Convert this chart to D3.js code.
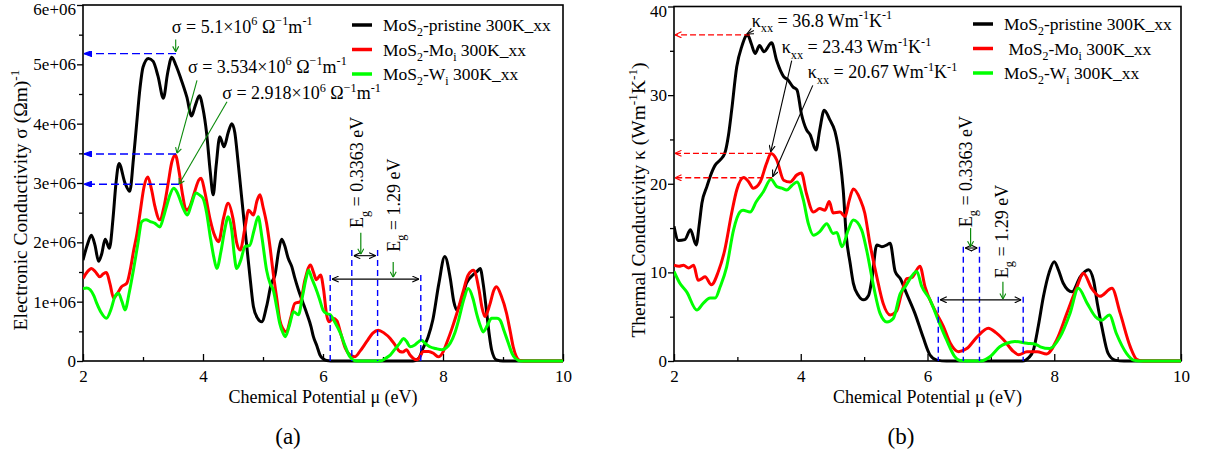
<!DOCTYPE html>
<html>
<head>
<meta charset="utf-8">
<script src="https://cdn.jsdelivr.net/npm/d3@7"></script>
<style>
  body { margin: 0; background: #fff; }
  text { font-family: "Liberation Serif", "Times New Roman", serif; fill: #000; white-space: pre; }
</style>
</head>
<body>
<svg id="chart" width="1206" height="451"></svg>
<script>
/* global d3 */

// chemical potential (eV) vs electronic conductivity sigma (x 1e6 Ohm^-1 m^-1)
const sigmaPristine = [[2.0,1.70],[2.07,1.95],[2.14,2.12],[2.2,1.95],[2.26,1.68],[2.31,1.8],[2.37,2.05],[2.44,1.9],[2.5,2.4],[2.55,3.0],[2.6,3.33],[2.7,3.0],[2.78,2.86],[2.84,3.4],[2.89,3.95],[2.95,4.6],[3.0,4.95],[3.09,5.1],[3.17,5.05],[3.25,4.8],[3.34,4.43],[3.41,4.85],[3.48,5.12],[3.55,4.98],[3.62,4.79],[3.73,4.45],[3.81,4.13],[3.87,4.3],[3.94,4.47],[4.0,4.25],[4.06,3.84],[4.12,3.2],[4.17,2.8],[4.22,3.3],[4.28,3.78],[4.35,3.61],[4.42,3.85],[4.48,4.0],[4.53,3.85],[4.58,3.4],[4.62,3.0],[4.68,2.4],[4.73,1.93],[4.79,1.35],[4.84,0.92],[4.91,0.72],[4.98,0.66],[5.06,0.92],[5.14,1.31],[5.2,1.45],[5.26,1.85],[5.31,2.05],[5.36,1.95],[5.42,1.73],[5.48,1.59],[5.53,1.4],[5.59,1.2],[5.66,1.0],[5.73,0.8],[5.8,0.58],[5.84,0.41],[5.9,0.25],[5.95,0.1],[6.0,0.04],[6.06,0.01],[6.2,0],[7.5,0],[7.6,0.05],[7.66,0.2],[7.75,0.4],[7.83,0.69],[7.93,1.3],[8.03,1.76],[8.12,1.4],[8.18,1.0],[8.23,0.86],[8.3,1.0],[8.39,1.31],[8.5,1.45],[8.56,1.5],[8.62,1.56],[8.67,1.3],[8.73,0.8],[8.77,0.45],[8.81,0.19],[8.89,0.02],[9.0,0],[10,0]]
const sigmaMoi = [[2.0,1.39],[2.07,1.5],[2.14,1.56],[2.21,1.5],[2.28,1.42],[2.34,1.47],[2.39,1.49],[2.45,1.3],[2.51,1.06],[2.58,1.15],[2.64,1.25],[2.73,1.31],[2.79,1.55],[2.84,1.84],[2.9,2.15],[2.95,2.49],[3.02,2.95],[3.08,3.1],[3.14,2.9],[3.2,2.6],[3.28,2.38],[3.35,2.6],[3.42,3.0],[3.48,3.35],[3.54,3.47],[3.6,3.2],[3.66,2.8],[3.72,2.54],[3.78,2.6],[3.86,2.85],[3.93,3.05],[3.97,3.08],[4.03,2.85],[4.12,2.38],[4.2,2.1],[4.26,2.01],[4.34,2.4],[4.42,2.66],[4.5,2.4],[4.56,2.0],[4.62,1.87],[4.7,2.25],[4.76,2.54],[4.84,2.46],[4.9,2.7],[4.95,2.8],[5.0,2.6],[5.06,2.32],[5.12,1.9],[5.17,1.48],[5.23,1.05],[5.28,0.69],[5.33,0.55],[5.39,0.49],[5.46,0.72],[5.53,0.97],[5.62,1.0],[5.7,1.37],[5.79,1.62],[5.84,1.5],[5.89,1.37],[5.96,1.45],[6.01,1.2],[6.06,0.78],[6.1,0.66],[6.17,0.72],[6.23,0.68],[6.3,0.45],[6.37,0.22],[6.45,0.1],[6.53,0.07],[6.62,0.17],[6.73,0.33],[6.83,0.47],[6.92,0.52],[7.02,0.47],[7.12,0.38],[7.2,0.27],[7.28,0.16],[7.33,0.15],[7.39,0.19],[7.45,0.1],[7.56,0.02],[7.62,0.08],[7.67,0.16],[7.76,0.16],[7.84,0.13],[7.92,0.07],[8.0,0.15],[8.06,0.3],[8.15,0.55],[8.23,0.8],[8.33,1.15],[8.42,1.45],[8.51,1.53],[8.6,1.2],[8.65,0.9],[8.7,0.75],[8.78,0.95],[8.85,1.2],[8.89,1.25],[8.97,1.1],[9.06,0.8],[9.12,0.5],[9.17,0.24],[9.22,0.08],[9.28,0.01],[9.4,0],[10,0]]
const sigmaWi = [[2.0,1.22],[2.06,1.23],[2.12,1.2],[2.18,1.1],[2.23,0.97],[2.3,0.82],[2.39,0.72],[2.47,0.88],[2.53,1.08],[2.59,1.14],[2.65,1.0],[2.7,0.86],[2.77,1.15],[2.84,1.53],[2.91,1.95],[2.98,2.35],[3.05,2.38],[3.12,2.35],[3.2,2.32],[3.28,2.26],[3.34,2.42],[3.39,2.6],[3.45,2.8],[3.51,2.91],[3.57,2.84],[3.62,2.71],[3.68,2.55],[3.74,2.46],[3.8,2.62],[3.88,2.83],[3.94,2.8],[4.0,2.74],[4.06,2.5],[4.12,2.1],[4.18,1.75],[4.23,1.56],[4.3,1.85],[4.36,2.2],[4.42,2.43],[4.48,2.2],[4.52,1.8],[4.56,1.56],[4.63,1.7],[4.7,1.93],[4.78,1.95],[4.85,2.2],[4.92,2.43],[4.98,2.1],[5.06,1.53],[5.12,1.3],[5.17,1.2],[5.23,0.9],[5.28,0.63],[5.33,0.48],[5.37,0.41],[5.44,0.6],[5.51,0.83],[5.59,0.78],[5.66,1.1],[5.72,1.4],[5.76,1.53],[5.81,1.4],[5.87,1.25],[5.94,1.05],[6.0,0.86],[6.06,0.8],[6.12,0.78],[6.2,0.65],[6.29,0.47],[6.37,0.25],[6.45,0.07],[6.56,0],[6.95,0],[7.05,0.05],[7.12,0.1],[7.2,0.2],[7.28,0.3],[7.34,0.38],[7.4,0.32],[7.45,0.24],[7.53,0.27],[7.6,0.33],[7.64,0.35],[7.7,0.3],[7.78,0.24],[7.88,0.21],[7.98,0.19],[8.05,0.22],[8.12,0.3],[8.2,0.48],[8.26,0.69],[8.35,1.05],[8.42,1.22],[8.5,1.05],[8.56,0.8],[8.62,0.6],[8.67,0.49],[8.74,0.6],[8.81,0.72],[8.9,0.72],[8.95,0.69],[9.02,0.5],[9.09,0.3],[9.15,0.13],[9.2,0.05],[9.3,0],[10,0]]

// chemical potential (eV) vs thermal conductivity kappa (W m^-1 K^-1)
const kappaPristine = [[2.0,15.2],[2.07,13.6],[2.17,13.7],[2.26,14.8],[2.35,13.1],[2.4,15.5],[2.44,17.8],[2.52,19.7],[2.57,20.8],[2.65,22.1],[2.73,22.7],[2.8,23.4],[2.86,25.5],[2.91,28.3],[2.99,33.2],[3.07,35.5],[3.16,36.8],[3.22,35.8],[3.28,34.7],[3.35,35.6],[3.42,34.9],[3.54,35.9],[3.62,33.9],[3.73,32.1],[3.8,31.7],[3.88,30.9],[3.94,30.6],[4.01,27.9],[4.09,26.1],[4.15,25.5],[4.24,23.8],[4.3,26.1],[4.37,28.3],[4.46,27.2],[4.54,25.9],[4.62,22.7],[4.67,19.3],[4.72,14.0],[4.78,11.0],[4.83,8.76],[4.91,7.4],[4.99,6.9],[5.07,7.4],[5.12,9.1],[5.2,13.1],[5.28,12.9],[5.36,13.1],[5.41,13.3],[5.49,10.1],[5.57,9.3],[5.67,7.6],[5.8,5.4],[5.93,2.7],[6.04,0.68],[6.15,0.1],[6.3,0],[7.5,0],[7.6,0.4],[7.67,1.2],[7.75,4.0],[7.83,7.3],[7.92,10.0],[8.0,11.2],[8.07,10.2],[8.14,8.8],[8.28,7.8],[8.41,9.5],[8.54,10.3],[8.62,9.1],[8.68,6.5],[8.75,3.9],[8.85,0.86],[8.96,0.1],[9.1,0],[10,0]]
const kappaMoi = [[2.0,10.8],[2.08,10.7],[2.15,10.8],[2.23,10.5],[2.31,10.8],[2.38,9.1],[2.44,9.3],[2.49,9.5],[2.59,8.6],[2.7,10.1],[2.8,12.5],[2.91,16.7],[2.99,19.3],[3.1,20.7],[3.18,20.2],[3.25,19.5],[3.36,20.2],[3.46,22.3],[3.53,23.4],[3.62,22.7],[3.73,20.4],[3.83,20.2],[3.94,21.0],[4.01,21.2],[4.09,18.9],[4.2,16.8],[4.3,17.2],[4.38,17.0],[4.45,18.0],[4.51,16.7],[4.62,16.8],[4.7,16.3],[4.76,18.0],[4.83,19.4],[4.94,18.2],[5.01,16.7],[5.09,13.3],[5.2,9.5],[5.3,6.5],[5.41,5.2],[5.51,5.6],[5.59,7.6],[5.67,9.3],[5.75,9.4],[5.88,10.7],[5.96,8.4],[6.09,6.1],[6.25,3.9],[6.36,2.0],[6.49,1.05],[6.62,1.4],[6.78,2.7],[6.96,3.7],[7.08,3.2],[7.2,2.4],[7.36,1.05],[7.44,0.7],[7.57,1.05],[7.73,1.05],[7.88,0.8],[8.04,2.4],[8.2,5.4],[8.36,8.4],[8.46,9.9],[8.59,8.2],[8.72,7.3],[8.91,8.2],[9.04,5.4],[9.2,1.6],[9.3,0.2],[9.4,0],[10,0]]
const kappaWi = [[2.0,10.1],[2.09,8.8],[2.2,7.8],[2.36,5.75],[2.46,6.5],[2.57,7.1],[2.65,7.1],[2.73,8.4],[2.83,10.6],[2.94,14.8],[3.04,16.8],[3.09,17.0],[3.2,16.8],[3.3,18.0],[3.41,19.1],[3.53,20.5],[3.62,19.7],[3.7,19.5],[3.78,19.3],[3.86,19.8],[3.94,20.2],[4.04,18.2],[4.12,15.5],[4.2,14.2],[4.3,14.6],[4.41,15.5],[4.51,14.4],[4.57,14.5],[4.65,12.9],[4.75,14.8],[4.83,15.9],[4.96,14.8],[5.04,12.5],[5.15,8.4],[5.25,5.4],[5.36,4.4],[5.46,4.8],[5.57,7.6],[5.65,8.4],[5.83,10.1],[5.91,8.4],[6.04,6.9],[6.17,4.6],[6.3,2.4],[6.43,0.5],[6.51,0.05],[6.6,0],[6.85,0],[6.99,0.5],[7.14,1.6],[7.25,2.0],[7.38,2.2],[7.57,2.0],[7.7,1.9],[7.78,1.6],[7.93,1.4],[8.09,2.7],[8.25,5.4],[8.38,8.2],[8.52,6.5],[8.65,5.0],[8.75,4.6],[8.87,5.2],[8.98,3.1],[9.14,0.86],[9.25,0.1],[9.35,0],[10,0]]

const xTicks = [2, 4, 6, 8, 10]
const xMinorTicks = [3, 5, 7, 9]
const sigmaTicks = [0, 1, 2, 3, 4, 5, 6]
const sigmaMinorTicks = [0.5, 1.5, 2.5, 3.5, 4.5, 5.5]
const kappaTicks = [0, 10, 20, 30, 40]
const kappaMinorTicks = [5, 15, 25, 35]
const seriesColors = ['#000000', '#ff0000', '#00ff00']

// peak call-outs: value, where the dashed guide starts, label anchor, pointer arrow (all data units)
const sigmaPeaks = [
  { text: '5.1', v: 5.18, mu: 3.55, labelMu: 3.48, labelV: 5.53, from: [3.545, 5.42], to: [3.545, 5.21] },
  { text: '3.534', v: 3.49, mu: 3.55, labelMu: 3.75, labelV: 4.86, from: [3.9, 4.73], to: [3.567, 3.5] },
  { text: '2.918', v: 2.98, mu: 3.6, labelMu: 4.32, labelV: 4.41, from: [4.4, 4.37], to: [3.6, 2.98] }
]
const kappaPeaks = [
  { text: '36.8', v: 36.8, mu: 3.2, labelMu: 3.226, labelV: 37.7, from: [3.26, 37.3], to: [3.15, 36.9] },
  { text: '23.43', v: 23.43, mu: 3.53, labelMu: 3.7, labelV: 34.7, from: [3.857, 33.9], to: [3.526, 23.6] },
  { text: '20.67', v: 20.67, mu: 3.55, labelMu: 4.11, labelV: 31.9, from: [4.19, 31.1], to: [3.557, 20.8] }
]
// band gaps: edges (eV), guide top, double-arrow level, pointer and rotated label
const sigmaGaps = [
  { text: '0.3363', lo: 6.48, hi: 6.91, top: 1.87, level: 1.775, pointMu: 6.63, pointFrom: 2.16, pointTo: 1.8, labelMu: 6.67, labelV: 2.24 },
  { text: '1.29', lo: 6.12, hi: 7.63, top: 1.45, level: 1.38, pointMu: 7.17, pointFrom: 1.67, pointTo: 1.41, labelMu: 7.28, labelV: 1.84 }
]
const kappaGaps = [
  { text: '0.3363', lo: 6.565, hi: 6.82, top: 12.9, level: 12.75, pointMu: 6.68, pointFrom: 15.0, pointTo: 12.9, labelMu: 6.7, labelV: 15.1 },
  { text: '1.29', lo: 6.17, hi: 7.51, top: 7.25, level: 6.9, pointMu: 7.19, pointFrom: 8.94, pointTo: 7.0, labelMu: 7.27, labelV: 9.35 }
]

const svg = d3.select('#chart')
const defs = svg.append('defs')

function addMarker(id, color, filled, w, h) {
  defs.append('marker')
    .attr('id', id)
    .attr('viewBox', `0 0 ${w} ${h}`)
    .attr('refX', w).attr('refY', h / 2)
    .attr('markerWidth', w).attr('markerHeight', h)
    .attr('markerUnits', 'userSpaceOnUse')
    .attr('orient', 'auto-start-reverse')
    .append('path')
    .attr('d', filled ? `M0,0L${w},${h / 2}L0,${h}Z` : `M0.5,0.5L${w},${h / 2}L0.5,${h - 0.5}`)
    .attr('fill', filled ? color : 'none')
    .attr('stroke', color)
    .attr('stroke-width', 1.1)
}
addMarker('blueHead', '#0000ff', true, 8, 6)
addMarker('redHead', '#ff0000', false, 7, 7)
addMarker('blackHead', '#000000', false, 7, 7)
addMarker('greenHead', '#0a8a0a', false, 6, 7)

// text with super/subscripts: parts = [[string, '' | 'sup' | 'sub'], ...]
function rich(sel, parts, size) {
  let shift = 0
  parts.forEach(([s, kind]) => {
    const target = kind === 'sup' ? -0.42 * size : kind === 'sub' ? 0.3 * size : 0
    sel.append('tspan')
      .attr('dy', target - shift)
      .style('font-size', (kind ? size * 0.68 : size) + 'px')
      .text(s)
    shift = target
  })
  return sel
}

function drawPanel(cfg) {
  const x = d3.scaleLinear().domain([2, 10]).range([cfg.left, cfg.right])
  const y = d3.scaleLinear().domain([0, cfg.yMax]).range([cfg.bottom, cfg.top])
  const g = svg.append('g')

  const clipId = cfg.id + 'clip'
  defs.append('clipPath').attr('id', clipId)
    .append('rect')
    .attr('x', cfg.left).attr('y', cfg.top)
    .attr('width', cfg.right - cfg.left).attr('height', cfg.bottom - cfg.top + 3)

  // ticks: x inward, y outward
  const styleAxis = (a) => {
    a.select('.domain').remove()
    a.selectAll('line').attr('stroke', '#000').attr('stroke-width', 1.3)
    a.selectAll('text').attr('font-family', null).style('font-size', '17px').attr('fill', '#000')
  }
  g.append('g').attr('transform', `translate(0,${cfg.bottom})`)
    .call(d3.axisBottom(x).tickValues(xTicks).tickSize(-7).tickPadding(9).tickFormat(d3.format('d')))
    .call(styleAxis)
  g.append('g').attr('transform', `translate(0,${cfg.bottom})`)
    .call(d3.axisBottom(x).tickValues(xMinorTicks).tickSize(-4).tickFormat(''))
    .call(styleAxis)
  g.append('g').attr('transform', `translate(${cfg.left},0)`)
    .call(d3.axisLeft(y).tickValues(cfg.yTicks).tickSize(6).tickPadding(1).tickFormat(cfg.yFormat))
    .call(styleAxis)
    // the top label sits on the page edge; keep it fully inside
    .call((a) => a.selectAll('.tick text').filter((d) => d === cfg.yMax).attr('dy', '0.58em'))
  g.append('g').attr('transform', `translate(${cfg.left},0)`)
    .call(d3.axisLeft(y).tickValues(cfg.yMinor).tickSize(4).tickFormat(''))
    .call(styleAxis)

  g.append('rect')
    .attr('x', cfg.left).attr('y', cfg.top)
    .attr('width', cfg.right - cfg.left).attr('height', cfg.bottom - cfg.top)
    .attr('fill', 'none').attr('stroke', '#000').attr('stroke-width', 1.6)

  // curves
  const line = d3.line().x((d) => x(d[0])).y((d) => y(d[1])).curve(d3.curveMonotoneX)
  g.append('g').attr('clip-path', `url(#${clipId})`)
    .selectAll('path')
    .data(cfg.series)
    .join('path')
    .attr('d', line)
    .attr('fill', 'none')
    .attr('stroke', (d, i) => seriesColors[i])
    .attr('stroke-width', 3)
    .attr('stroke-linejoin', 'round')

  // legend
  cfg.legend.forEach((parts, i) => {
    const ly = cfg.legendY + i * 24.5
    g.append('line')
      .attr('x1', cfg.legendX).attr('x2', cfg.legendX + 20)
      .attr('y1', ly).attr('y2', ly)
      .attr('stroke', seriesColors[i]).attr('stroke-width', 3.5)
    rich(g.append('text').attr('x', cfg.legendX + 31).attr('y', ly + 6), parts, 17.5)
  })

  // peak call-outs
  cfg.peaks.forEach((p) => {
    g.append('line')
      .attr('x1', x(p.mu)).attr('y1', y(p.v))
      .attr('x2', cfg.left + 1).attr('y2', y(p.v))
      .attr('stroke', cfg.guideColor).attr('stroke-width', 1.4)
      .attr('stroke-dasharray', cfg.guideDash)
      .attr('marker-end', `url(#${cfg.guideHead})`)
    g.append('line')
      .attr('x1', x(p.from[0])).attr('y1', y(p.from[1]))
      .attr('x2', x(p.to[0])).attr('y2', y(p.to[1]))
      .attr('stroke', cfg.pointerColor).attr('stroke-width', 1.1)
      .attr('marker-end', `url(#${cfg.pointerHead})`)
    rich(g.append('text').attr('x', x(p.labelMu)).attr('y', y(p.labelV)), cfg.peakLabel(p.text), 18)
  })

  // band gaps
  cfg.gaps.forEach((gp) => {
    [gp.lo, gp.hi].forEach((e) => {
      g.append('line')
        .attr('x1', x(e)).attr('x2', x(e))
        .attr('y1', y(gp.top)).attr('y2', cfg.bottom)
        .attr('stroke', '#0000ff').attr('stroke-width', 1.4)
        .attr('stroke-dasharray', '6,4')
    })
    g.append('line')
      .attr('x1', x(gp.lo) + 2).attr('x2', x(gp.hi) - 2)
      .attr('y1', y(gp.level)).attr('y2', y(gp.level))
      .attr('stroke', '#000').attr('stroke-width', 1.1)
      .attr('marker-start', 'url(#blackHead)')
      .attr('marker-end', 'url(#blackHead)')
    g.append('line')
      .attr('x1', x(gp.pointMu)).attr('x2', x(gp.pointMu))
      .attr('y1', y(gp.pointFrom)).attr('y2', y(gp.pointTo))
      .attr('stroke', '#0a8a0a').attr('stroke-width', 1.2)
      .attr('marker-end', 'url(#greenHead)')
    rich(g.append('text')
      .attr('transform', `translate(${x(gp.labelMu)},${y(gp.labelV)}) rotate(-90)`),
    [['E', ''], ['g', 'sub'], [` = ${gp.text} eV`, '']], 18)
  })

  // axis titles and caption
  g.append('text')
    .attr('x', (cfg.left + cfg.right) / 2).attr('y', 403)
    .attr('text-anchor', 'middle').style('font-size', '18px')
    .text('Chemical Potential μ (eV)')
  rich(g.append('text')
    .attr('transform', `translate(${cfg.yTitleX},${cfg.yTitleY}) rotate(-90)`)
    .attr('text-anchor', 'middle'), cfg.yTitle, 19.5)
  g.append('text')
    .attr('x', cfg.captionX).attr('y', 444)
    .attr('text-anchor', 'middle').style('font-size', '23px')
    .text(cfg.caption)
}

drawPanel({
  id: 'sigma',
  left: 83, right: 563, top: 5, bottom: 361,
  yMax: 6, yTicks: sigmaTicks, yMinor: sigmaMinorTicks,
  yFormat: (d) => (d === 0 ? '0' : `${d}e+06`),
  series: [sigmaPristine, sigmaMoi, sigmaWi],
  legend: [
    [['MoS', ''], ['2', 'sub'], ['-pristine 300K_xx', '']],
    [['MoS', ''], ['2', 'sub'], ['-Mo', ''], ['i', 'sub'], [' 300K_xx', '']],
    [['MoS', ''], ['2', 'sub'], ['-W', ''], ['i', 'sub'], [' 300K_xx', '']]
  ],
  legendX: 352, legendY: 25,
  peaks: sigmaPeaks,
  peakLabel: (t) => [[`σ = ${t}×10`, ''], ['6', 'sup'], [' Ω', ''], ['−1', 'sup'], ['m', ''], ['-1', 'sup']],
  guideColor: '#0000ff', guideDash: '8,4', guideHead: 'blueHead',
  pointerColor: '#0a8a0a', pointerHead: 'greenHead',
  gaps: sigmaGaps,
  yTitle: [['Electronic Conductivity σ (Ωm)', ''], ['-1', 'sup']],
  yTitleX: 27, yTitleY: 200,
  caption: '(a)', captionX: 288
})

drawPanel({
  id: 'kappa',
  left: 674, right: 1181, top: 6.5, bottom: 361,
  yMax: 40, yTicks: kappaTicks, yMinor: kappaMinorTicks,
  yFormat: d3.format('d'),
  series: [kappaPristine, kappaMoi, kappaWi],
  legend: [
    [['MoS', ''], ['2', 'sub'], ['-pristine 300K_xx', '']],
    [[' MoS', ''], ['2', 'sub'], ['-Mo', ''], ['i', 'sub'], [' 300K_xx', '']],
    [['MoS', ''], ['2', 'sub'], ['-W', ''], ['i', 'sub'], [' 300K_xx', '']]
  ],
  legendX: 973, legendY: 24,
  peaks: kappaPeaks,
  peakLabel: (t) => [['κ', ''], ['xx', 'sub'], [` = ${t} Wm`, ''], ['-1', 'sup'], ['K', ''], ['-1', 'sup']],
  guideColor: '#ff0000', guideDash: '6,3', guideHead: 'redHead',
  pointerColor: '#000000', pointerHead: 'blackHead',
  gaps: kappaGaps,
  yTitle: [['Thermal Conductivity κ (Wm', ''], ['-1', 'sup'], ['K', ''], ['-1', 'sup'], [')', '']],
  yTitleX: 645, yTitleY: 200,
  caption: '(b)', captionX: 901
})
</script>
</body>
</html>
